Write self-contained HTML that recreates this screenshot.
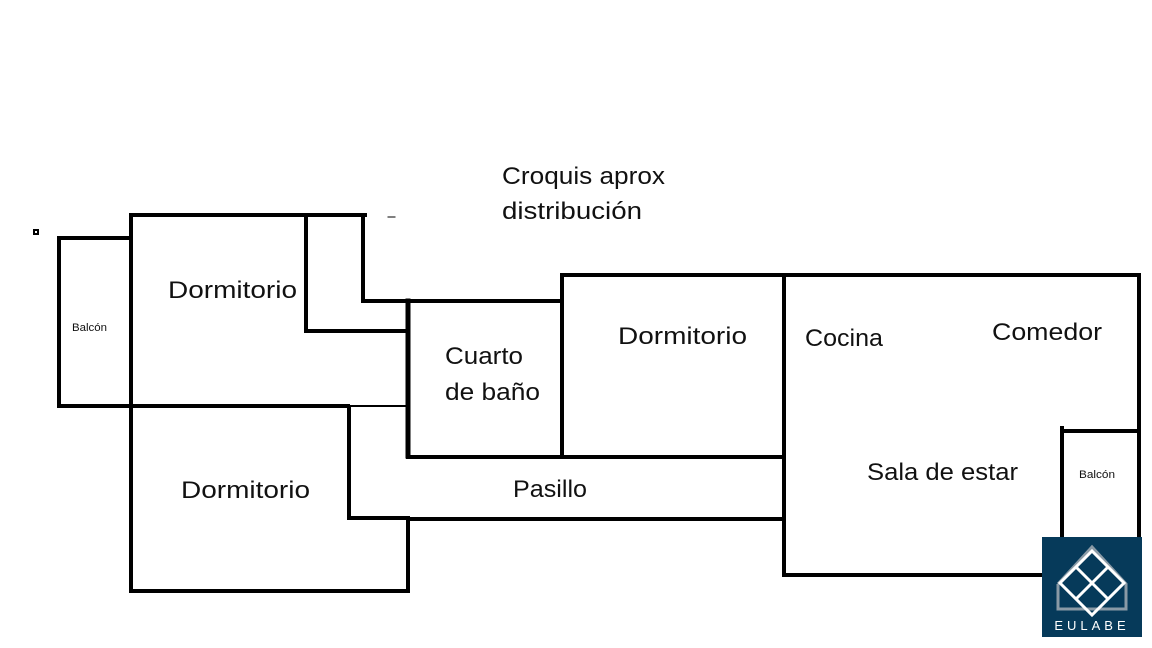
<!DOCTYPE html>
<html><head><meta charset="utf-8"><style>
html,body{margin:0;padding:0;background:#fff;}
svg{display:block;}
text{font-family:"Liberation Sans",sans-serif;fill:#111;}
</style></head><body>
<svg width="1152" height="648" viewBox="0 0 1152 648" xmlns="http://www.w3.org/2000/svg">
<g stroke="#000" stroke-width="4" fill="none" stroke-linecap="square">
<rect x="34" y="230" width="4" height="4" stroke-width="2"/>
<line x1="388" y1="217" x2="395" y2="217" stroke-width="1"/>
<polyline points="131,238 59,238 59,406 131,406"/>
<line x1="131" y1="215" x2="365" y2="215"/>
<line x1="131" y1="215" x2="131" y2="591"/>
<polyline points="306,215 306,331 407,331"/>
<polyline points="363,215 363,301 560,301"/>
<line x1="408" y1="301" x2="408" y2="456" stroke-width="5"/>
<line x1="131" y1="406" x2="348" y2="406"/>
<line x1="348" y1="406" x2="406" y2="406" stroke-width="2"/>
<polyline points="349,407 349,518 407,518"/>
<polyline points="408,518 408,591 131,591"/>
<line x1="408" y1="457" x2="784" y2="457"/>
<polyline points="562,457 562,275 784,275"/>
<line x1="784" y1="275" x2="784" y2="575"/>
<line x1="408" y1="519" x2="784" y2="519"/>
<polyline points="784,275 1139,275 1139,538"/>
<line x1="784" y1="575" x2="1044" y2="575"/>
<polyline points="1062,538 1062,428"/>
<line x1="1062" y1="431" x2="1139" y2="431"/>
</g>
<g font-size="24">
<text x="502" y="184" textLength="163" lengthAdjust="spacingAndGlyphs">Croquis aprox</text>
<text x="502" y="219" textLength="140" lengthAdjust="spacingAndGlyphs">distribución</text>
<text x="168" y="298" textLength="129" lengthAdjust="spacingAndGlyphs">Dormitorio</text>
<text x="181" y="498" textLength="129" lengthAdjust="spacingAndGlyphs">Dormitorio</text>
<text x="445" y="364" textLength="78" lengthAdjust="spacingAndGlyphs">Cuarto</text>
<text x="445" y="400" textLength="95" lengthAdjust="spacingAndGlyphs">de baño</text>
<text x="618" y="344" textLength="129" lengthAdjust="spacingAndGlyphs">Dormitorio</text>
<text x="513" y="497" textLength="74" lengthAdjust="spacingAndGlyphs">Pasillo</text>
<text x="805" y="346" textLength="78" lengthAdjust="spacingAndGlyphs">Cocina</text>
<text x="992" y="340" textLength="110" lengthAdjust="spacingAndGlyphs">Comedor</text>
<text x="867" y="480" textLength="151" lengthAdjust="spacingAndGlyphs">Sala de estar</text>
</g>
<text x="72" y="331" font-size="11" textLength="35" lengthAdjust="spacingAndGlyphs">Balcón</text>
<text x="1079" y="478" font-size="11" textLength="36" lengthAdjust="spacingAndGlyphs">Balcón</text>
<rect x="1042" y="537" width="100" height="100" fill="#063a5a"/>
<polyline points="1058,584 1058,609 1126,609 1126,584 1092,547 1058,584" fill="none" stroke="#8a9aa6" stroke-width="3"/>
<g stroke="#fff" stroke-width="3" fill="none">
<polygon points="1092,551 1124,583 1092,615 1060,583"/>
<line x1="1076" y1="567" x2="1108" y2="599"/>
<line x1="1108" y1="567" x2="1076" y2="599"/>
</g>
<text x="1092" y="630" font-size="13" text-anchor="middle" style="fill:#fff;letter-spacing:4px">EULABE</text>
</svg>
</body></html>
